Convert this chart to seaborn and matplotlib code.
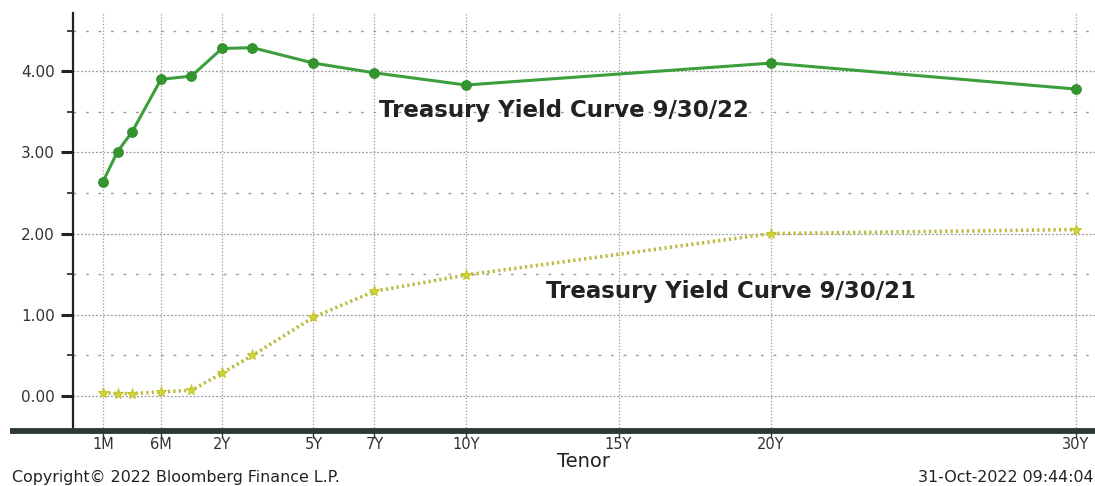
import numpy as np
import pandas as pd
import matplotlib
matplotlib.use("Agg")
import matplotlib.pyplot as plt
from matplotlib.lines import Line2D
from matplotlib.ticker import FixedLocator, MultipleLocator, FuncFormatter
import seaborn as sns

# Tenors (in years) and yields (%)
tenor_labels_all = ["1M", "2M", "3M", "6M", "1Y", "2Y", "3Y", "5Y", "7Y", "10Y", "20Y", "30Y"]
tenor_years = [1/12, 2/12, 3/12, 6/12, 1, 2, 3, 5, 7, 10, 20, 30]
yield_2022 = [2.64, 3.01, 3.25, 3.90, 3.94, 4.28, 4.29, 4.10, 3.98, 3.83, 4.10, 3.78]
yield_2021 = [0.04, 0.03, 0.03, 0.05, 0.07, 0.28, 0.50, 0.97, 1.29, 1.49, 2.00, 2.05]

# Labelled axis ticks
tick_labels = ["1M", "6M", "2Y", "5Y", "7Y", "10Y", "15Y", "20Y", "30Y"]
tick_years = [1/12, 6/12, 2, 5, 7, 10, 15, 20, 30]

label_2022 = "Treasury Yield Curve 9/30/22"
label_2021 = "Treasury Yield Curve 9/30/21"

df = pd.DataFrame({
    "tenor": tenor_years * 2,
    "yield": yield_2022 + yield_2021,
    "curve": [label_2022] * len(tenor_years) + [label_2021] * len(tenor_years),
})

# Tenor axis: linear from 1Y out, stretched below 1Y so the bill tenors are readable
T_ANCH = np.array([1/12, 0.25, 0.5, 1.0])
U_ANCH = np.array([-1.9, -0.95, 0.0, 1.0])
SLOPE0 = (U_ANCH[1] - U_ANCH[0]) / (T_ANCH[1] - T_ANCH[0])


def tenor_fwd(t):
    t = np.asarray(t, dtype=float)
    u = np.interp(t, T_ANCH, U_ANCH)
    u = np.where(t > T_ANCH[-1], t, u)
    u = np.where(t < T_ANCH[0], U_ANCH[0] + (t - T_ANCH[0]) * SLOPE0, u)
    return u


def tenor_inv(u):
    u = np.asarray(u, dtype=float)
    t = np.interp(u, U_ANCH, T_ANCH)
    t = np.where(u > U_ANCH[-1], u, t)
    t = np.where(u < U_ANCH[0], T_ANCH[0] + (u - U_ANCH[0]) / SLOPE0, t)
    return t


sns.set_style("white")
plt.rcParams["font.family"] = ["DejaVu Sans"]

W, H = 1095, 486
fig = plt.figure(figsize=(W / 100, H / 100), dpi=100)
ax = fig.add_axes([72.7 / W, 1 - 430.5 / H, 1 - 72.7 / W, (430.5 - 13) / H])
ax.set_xscale("function", functions=(tenor_fwd, tenor_inv))

grid_col = "#9a9a9a"
green = "#3d9e3d"
olive = "#b9b93a"

sns.lineplot(data=df[df["curve"] == label_2022], x="tenor", y="yield", ax=ax,
             color=green, linewidth=2.2, marker="o", markersize=7,
             markeredgecolor="#2f8f2f", markerfacecolor="#34952f", zorder=4)
sns.lineplot(data=df[df["curve"] == label_2021], x="tenor", y="yield", ax=ax,
             color=olive, linewidth=2.6, linestyle=(0, (0.6, 0.9)),
             marker="*", markersize=8, markeredgecolor="#c4c42c",
             markerfacecolor="#d2d23a", zorder=4)

ax.set_xlim(-0.091, 30.62)
ax.set_ylim(-0.425, 4.717)

ax.xaxis.set_major_locator(FixedLocator(tick_years))
ax.set_xticks(tick_years)
ax.set_xticklabels(tick_labels)
ax.xaxis.set_minor_locator(FixedLocator([]))
ax.yaxis.set_major_locator(MultipleLocator(1.0))
ax.yaxis.set_minor_locator(MultipleLocator(0.5))
ax.yaxis.set_major_formatter(FuncFormatter(lambda v, p: f"{v:.2f}"))

ax.tick_params(axis="y", which="major", length=9, width=2.2, color="#222222",
               labelsize=11, pad=4, labelcolor="#333333", left=True)
ax.tick_params(axis="y", which="minor", length=4, width=1.2, color="#222222", left=True)
ax.tick_params(axis="x", which="major", length=5, width=1.0, color="#333333",
               labelsize=10.5, pad=0, labelcolor="#333333", bottom=True)

# Grid: dotted at labelled ticks, sparse dashes at half-points
ax.grid(True, axis="x", which="major", color=grid_col, linestyle=(0, (1, 1.6)), linewidth=0.9)
ax.grid(True, axis="y", which="major", color=grid_col, linestyle=(0, (1.5, 1.5)), linewidth=0.9)
ax.grid(True, axis="y", which="minor", color=grid_col, linestyle=(0, (2, 7)), linewidth=1.0)
ax.set_axisbelow(True)

for side in ("top", "right", "bottom"):
    ax.spines[side].set_visible(False)
ax.spines["left"].set_color("#222222")
ax.spines["left"].set_linewidth(1.6)

# Heavy baseline under the plot
fig.add_artist(Line2D([10 / W, 1.0], [1 - 430.5 / H] * 2, transform=fig.transFigure,
                      color="#2b3a33", linewidth=4.2, solid_capstyle="butt", zorder=5))

ax.set_xlabel("Tenor", fontsize=14, color="#222222", labelpad=0)
ax.set_ylabel("")
legend = ax.get_legend()
if legend is not None:
    legend.remove()

# Curve labels
ax.text(13.2, 3.52, label_2022, fontsize=16.5, fontweight="bold", color="#222222",
        ha="center", va="center", zorder=6)
ax.text(18.7, 1.29, label_2021, fontsize=16.5, fontweight="bold", color="#222222",
        ha="center", va="center", zorder=6)

# Footer
fig.text(12 / W, 1 - 477 / H, "Copyright\u00a9 2022 Bloomberg Finance L.P.", fontsize=11.4,
         color="#222222", ha="left", va="center")
fig.text(1093 / W, 1 - 477 / H, "31-Oct-2022 09:44:04", fontsize=11.4,
         color="#222222", ha="right", va="center")

fig.savefig("out.png", dpi=100, facecolor="white")
